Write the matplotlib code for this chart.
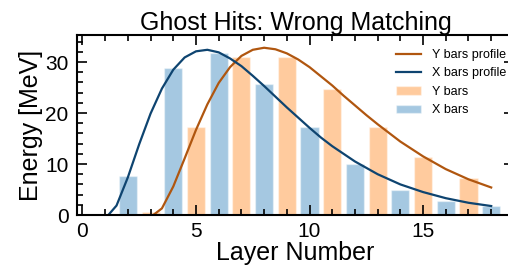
import matplotlib
matplotlib.use('Agg')
import matplotlib.pyplot as plt
from matplotlib.ticker import MultipleLocator

plt.rcParams['font.family'] = ['Liberation Sans', 'DejaVu Sans']

# bar data (layer number -> energy in MeV)
x_layers = [2, 4, 6, 8, 10, 12, 14, 16, 18]
x_energy = [7.6, 28.8, 31.7, 25.7, 17.2, 10.1, 5.0, 2.8, 1.8]
y_layers = [3, 5, 7, 9, 11, 13, 15, 17]
y_energy = [0.6, 17.3, 31.0, 31.0, 24.8, 17.3, 11.3, 7.3]

# profile curves
x_prof_t = [1.14, 1.5, 2, 2.5, 3, 3.5, 4, 4.5, 5, 5.5, 6, 6.5, 7, 7.5, 8, 8.5,
            9, 9.5, 10, 10.5, 11, 12, 13, 14, 15, 16, 17, 18]
x_prof_e = [0.0, 1.85, 7.4, 13.9, 19.9, 24.8, 28.5, 30.9, 32.1, 32.4, 31.9, 30.7,
            29.2, 27.3, 25.3, 23.2, 21.1, 19.1, 17.1, 15.2, 13.5, 10.5, 8.0, 6.0,
            4.5, 3.3, 2.4, 1.76]
y_prof_t = [3.12, 3.5, 4, 4.5, 5, 5.5, 6, 6.5, 7, 7.5, 8, 8.5, 9, 9.5, 10, 10.5,
            11, 11.5, 12, 12.5, 13, 14, 15, 16, 17, 18]
y_prof_e = [0.0, 1.3, 5.6, 11.1, 16.7, 21.7, 25.9, 29.0, 31.2, 32.4, 32.8, 32.5,
            31.7, 30.5, 29.0, 27.2, 25.4, 23.4, 21.5, 19.6, 17.8, 14.4, 11.5, 9.0,
            7.0, 5.4]

fig = plt.figure(figsize=(5.08, 2.66), dpi=100)
ax = fig.add_axes([0.1516, 0.1917, 0.86, 0.6767])

ax.plot(y_prof_t, y_prof_e, color='#b0560f', linewidth=1.6, label='Y bars profile')
ax.plot(x_prof_t, x_prof_e, color='#0e4470', linewidth=1.6, label='X bars profile')
ax.bar(y_layers, y_energy, width=0.8, color='#ff7f0e', alpha=0.4,
       edgecolor='white', linewidth=1, label='Y bars')
ax.bar(x_layers, x_energy, width=0.8, color='#1f77b4', alpha=0.4,
       edgecolor='white', linewidth=1, label='X bars')

ax.set_xlim(-0.24, 19)
ax.set_ylim(0, 35.3)
ax.xaxis.set_major_locator(MultipleLocator(5))
ax.xaxis.set_minor_locator(MultipleLocator(1))
ax.yaxis.set_major_locator(MultipleLocator(10))
ax.yaxis.set_minor_locator(MultipleLocator(2))
ax.tick_params(which='both', direction='in', top=True, right=True, labelsize=15, width=1.2)
ax.tick_params(which='major', length=7)
ax.tick_params(axis='x', which='major', pad=5)
ax.tick_params(axis='y', which='major', pad=6)
ax.tick_params(which='minor', length=4)
for s in ax.spines.values():
    s.set_linewidth(1.5)

ax.set_xlabel('Layer Number', fontsize=18, labelpad=0)
ax.set_ylabel('Energy [MeV]', fontsize=18, labelpad=2)
ax.set_title('Ghost Hits: Wrong Matching', fontsize=18, pad=3)
ax.legend(loc='upper right', bbox_to_anchor=(0.997, 0.816), bbox_transform=fig.transFigure,
          frameon=False, fontsize=9, handlelength=2.0, handletextpad=0.9,
          labelspacing=0.52, borderaxespad=0, borderpad=0)

fig.savefig('out.png', dpi=100)
